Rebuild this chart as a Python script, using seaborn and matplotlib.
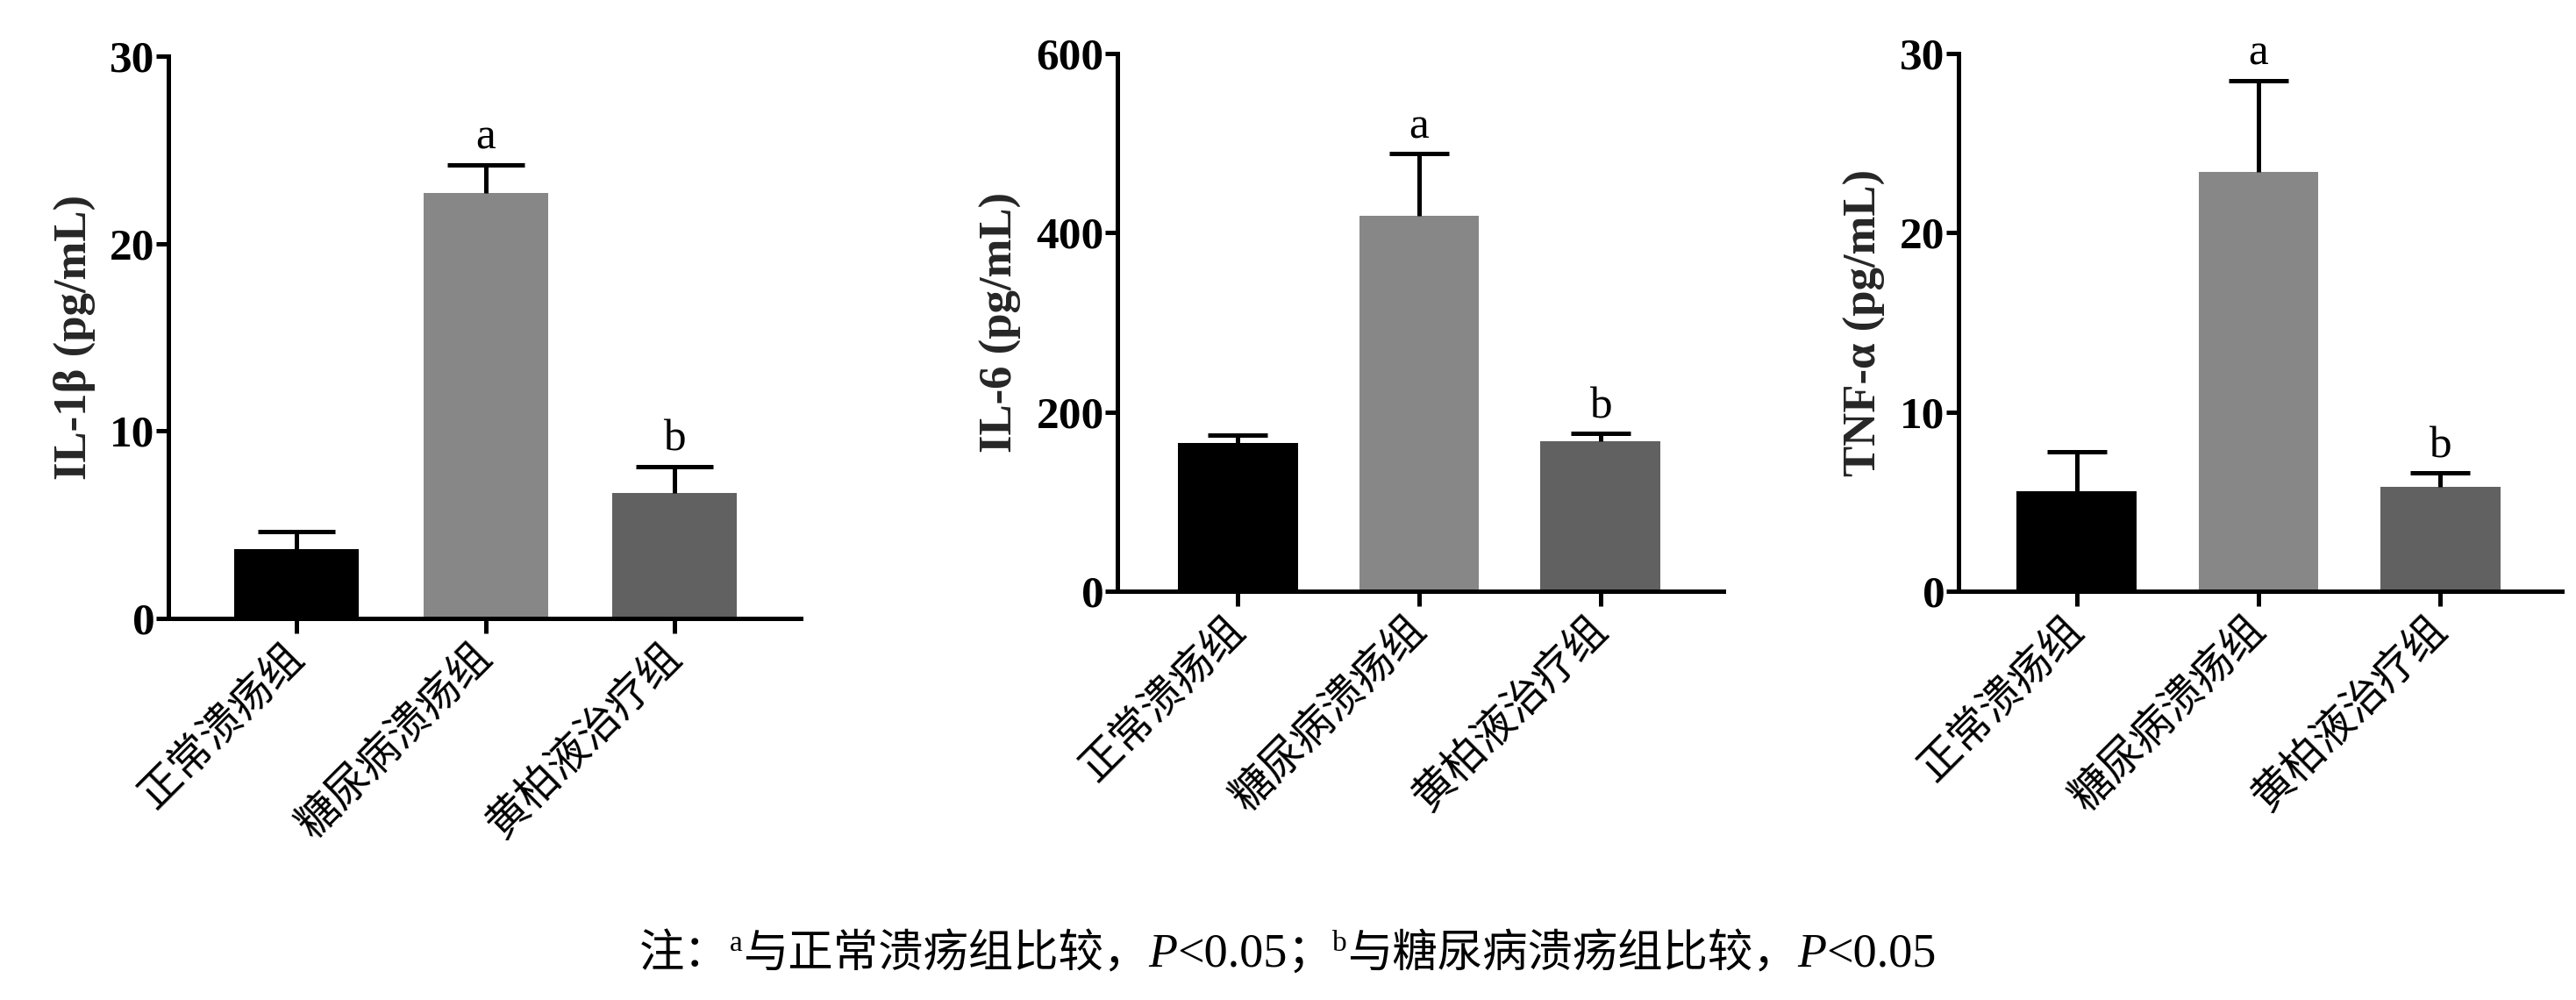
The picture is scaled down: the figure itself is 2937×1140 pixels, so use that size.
import matplotlib
matplotlib.use("Agg")
import matplotlib.pyplot as plt
import seaborn as sns
import pandas as pd
import numpy as np

# ---------------- data ----------------
groups = ['正常溃疡组', '糖尿病溃疡组', '黄柏液治疗组']
il1b_mean = [3.7, 22.7, 6.7]
il1b_sd = [0.95, 1.5, 1.4]
il6_mean = [165, 419, 167]
il6_sd = [9, 69, 9]
tnf_mean = [5.6, 23.4, 5.8]
tnf_sd = [2.2, 5.1, 0.8]
sig_labels = ['', 'a', 'b']
ylabels = ['IL-1β (pg/mL)', 'IL-6 (pg/mL)', 'TNF-α (pg/mL)']
yticks_list = [[0, 10, 20, 30], [0, 200, 400, 600], [0, 10, 20, 30]]
bar_colors = ['#000000', '#878787', '#616161']

W, H = 2937, 1140
sns.set_theme(style='ticks')
plt.rcParams['font.family'] = ['Liberation Serif', 'Noto Sans CJK SC', 'DejaVu Sans']

fig = plt.figure(figsize=(W / 100, H / 100), dpi=100)

# axes rectangles [left, bottom, width, height] in figure fraction
rects = [
    [192 / W, 1 - 705 / H, (913 - 192) / W, (705 - 64) / H],
    [1274 / W, 1 - 674 / H, (1965 - 1274) / W, (674 - 61) / H],
    [2233 / W, 1 - 674 / H, (2921 - 2233) / W, (674 - 61) / H],
]
xlims = [(-0.68, 2.67), (-0.665, 2.68), (-0.65, 2.67)]
capsizes = [31.5, 24.5, 24.5]

panels = [(il1b_mean, il1b_sd), (il6_mean, il6_sd), (tnf_mean, tnf_sd)]

for i, (means, sds) in enumerate(panels):
    ax = fig.add_axes(rects[i])
    df = pd.DataFrame({'group': groups, 'value': means, 'sd': sds})
    sns.barplot(data=df, x='group', y='value', hue='group', palette=bar_colors,
                width=0.66, errorbar=None, saturation=1, legend=False,
                edgecolor='none', linewidth=0, ax=ax, zorder=2)
    eb = ax.errorbar(x=np.arange(len(groups)), y=df['value'],
                     yerr=[np.zeros(len(groups)), df['sd']], fmt='none',
                     ecolor='black', elinewidth=3.6, capsize=capsizes[i],
                     capthick=3.6, zorder=3)
    # hide the lower caps (one-sided error bars)
    caplines = eb[1]
    if len(caplines) >= 2:
        caplines[0].set_visible(False)
    for j, lab in enumerate(sig_labels):
        if lab:
            ax.annotate(lab, xy=(j, means[j] + sds[j]), xytext=(0, 5),
                        textcoords='offset points', ha='center', va='bottom',
                        fontsize=37, family='Liberation Serif', color='black')
    yt = yticks_list[i]
    ax.set_ylim(yt[0], yt[-1])
    ax.set_yticks(yt)
    ax.set_yticklabels([str(v) for v in yt], fontsize=37, fontweight='bold',
                       family='Liberation Serif')
    ax.set_xlim(*xlims[i])
    ax.set_xticks(np.arange(len(groups)))
    ax.set_xticklabels(groups, rotation=45, ha='right', va='center',
                       rotation_mode='anchor', fontsize=35,
                       family=['Noto Sans CJK SC', 'DejaVu Sans'])
    ax.set_xlabel('')
    ax.set_ylabel(ylabels[i], fontsize=38, fontweight='bold',
                  family='Liberation Serif', labelpad=12)
    for s in ['top', 'right']:
        ax.spines[s].set_visible(False)
    for s in ['left', 'bottom']:
        ax.spines[s].set_linewidth(3.6)
        ax.spines[s].set_color('black')
    ax.tick_params(axis='y', length=10, width=3.6, pad=1, colors='black')
    ax.tick_params(axis='x', length=12, width=3.6, pad=14, colors='black')
    ax.set_facecolor('white')
    ax.grid(False)

# ---------------- note ----------------
cjk = dict(family=['Noto Sans CJK SC', 'DejaVu Sans'], fontsize=37)
ser = dict(family=['Liberation Serif', 'Noto Sans CJK SC'], fontsize=39)
ital = dict(family='Liberation Serif', fontsize=39, style='italic')
sup = dict(family='Liberation Serif', fontsize=24)
pieces = [
    ('注：', cjk, 0), ('a', sup, 0.016), ('与正常溃疡组比较，', cjk, 0),
    ('P', ital, 0), ('<0.05', ser, 0), ('；', cjk, 0), ('b', sup, 0.016),
    ('与糖尿病溃疡组比较，', cjk, 0), ('P', ital, 0), ('<0.05', ser, 0),
]
y_note = 1 - 1102 / H
renderer = fig.canvas.get_renderer()
texts = []
for s, kw, dy in pieces:
    t = fig.text(0, y_note + dy, s, va='baseline', ha='left', color='black', **kw)
    texts.append(t)
widths = [t.get_window_extent(renderer).width for t in texts]
x = W * 0.5 - sum(widths) / 2
for t, w, (s, kw, dy) in zip(texts, widths, pieces):
    t.set_position((x / W, y_note + dy))
    x += w

fig.savefig('out.png', dpi=100, facecolor='white')
